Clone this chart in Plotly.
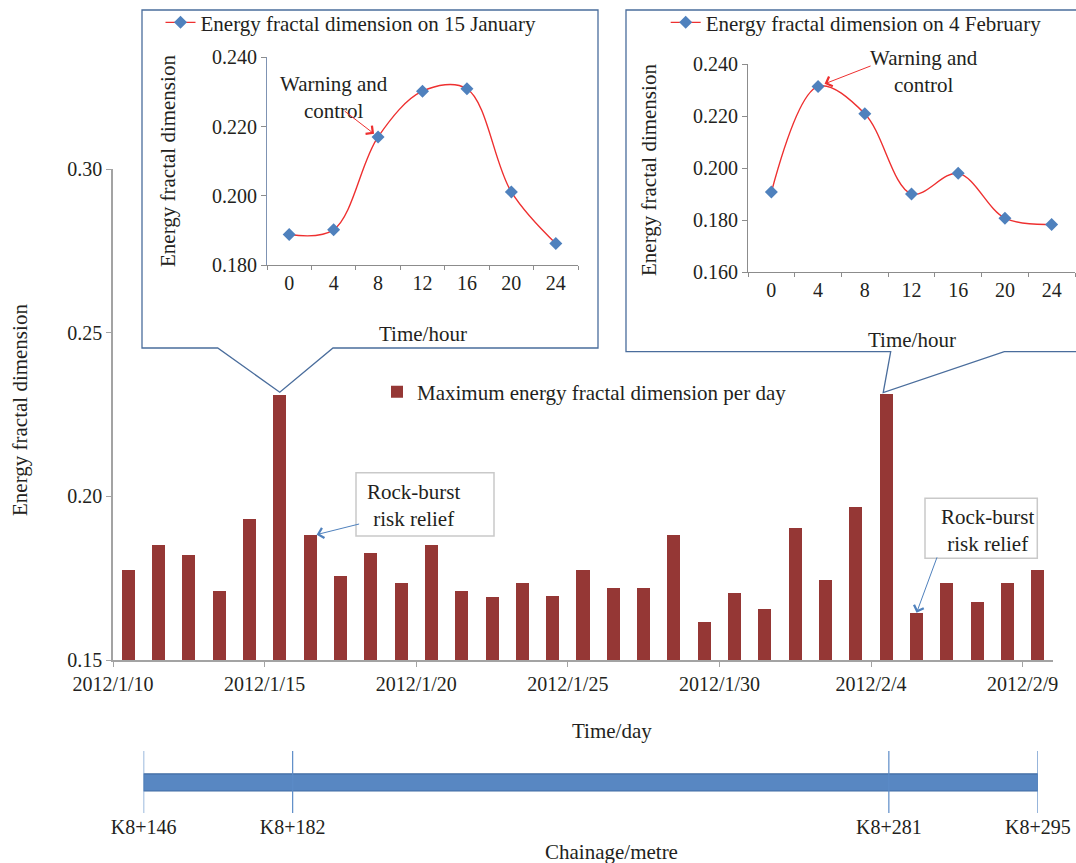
import pandas as pd
import plotly.graph_objects as go

W, H = 1076, 863

# ---- data -------------------------------------------------------------
days = pd.date_range("2012-01-10", "2012-02-09", freq="D").strftime("%Y-%m-%d").tolist()
max_fd = [0.1775, 0.1852, 0.1821, 0.1711, 0.1932, 0.2309, 0.1883, 0.1757,
          0.1828, 0.1736, 0.1852, 0.1711, 0.1693, 0.1736, 0.1696, 0.1775,
          0.1720, 0.1720, 0.1883, 0.1616, 0.1705, 0.1656, 0.1904, 0.1745,
          0.1968, 0.2314, 0.1644, 0.1736, 0.1678, 0.1736, 0.1775]

hours = [0, 4, 8, 12, 16, 20, 24]
fd_jan15 = [0.1888, 0.1902, 0.2170, 0.2302, 0.2309, 0.2011, 0.1862]
fd_feb04 = [0.1908, 0.2314, 0.2209, 0.1901, 0.1980, 0.1808, 0.1784]

chainage_labels = ["K8+146", "K8+182", "K8+281", "K8+295"]
chainage_dates = ["2012-01-10", "2012-01-15", "2012-02-04", "2012-02-09"]

main_ticks = [0.15, 0.20, 0.25, 0.30]
warn_hour_jan15 = 8
warn_hour_feb04 = 4
relief_days = ["2012-01-16", "2012-02-05"]

# ---- styling ------------------------------------------------------------
FONT = "Liberation Serif"
TXT = "#231f20"
GRAY = "#a3a3a3"
BAR = "#953735"
RED = "#ee3030"
BLUE = "#4f81bd"
BOX = "#4a6d9c"
DAY_MS = 86400000
BAR_FRAC = 0.43


def px(x):
    return x / W


def py(y):
    return 1 - y / H


# main plot pixel frame (used for callout tips)
MX0, MX1, MY0, MY1 = 113, 1053, 660, 169
YMIN, YMAX = 0.15, 0.30


def bar_tip(day):
    i = days.index(day)
    x = MX0 + (i + 0.5) * (MX1 - MX0) / len(days)
    y = MY0 - (max_fd[i] - YMIN) / (YMAX - YMIN) * (MY0 - MY1)
    return x, y


def path(points, close=True):
    s = "M" + " L".join(f"{px(x):.5f},{py(y):.5f}" for x, y in points)
    return s + (" Z" if close else "")


hcats = [str(h) for h in hours]

fig = go.Figure()

fig.add_trace(go.Bar(
    x=days, y=max_fd, xperiod=DAY_MS, xperiodalignment="middle",
    width=BAR_FRAC * DAY_MS, marker=dict(color=BAR, line=dict(width=0)),
    name="Maximum energy fractal dimension per day", xaxis="x", yaxis="y",
    legend="legend",
))

fig.add_trace(go.Scatter(
    x=hcats, y=fd_jan15, mode="lines+markers",
    line=dict(color=RED, width=1.4, shape="spline", smoothing=1.0),
    marker=dict(symbol="diamond", size=10, color=BLUE),
    name="Energy fractal dimension on 15 January", xaxis="x2", yaxis="y2",
    legend="legend2",
))

fig.add_trace(go.Scatter(
    x=hcats, y=fd_feb04, mode="lines+markers",
    line=dict(color=RED, width=1.4, shape="spline", smoothing=1.0),
    marker=dict(symbol="diamond", size=10, color=BLUE),
    name="Energy fractal dimension on 4 February", xaxis="x3", yaxis="y3",
    legend="legend3",
))

# chainage marker lines
vx, vy = [], []
for d in chainage_dates:
    vx += [d, d, None]
    vy += [0, 1, None]
fig.add_trace(go.Scatter(
    x=vx, y=vy, mode="lines", line=dict(color="#5b8bc7", width=1.2),
    xaxis="x4", yaxis="y4", showlegend=False, hoverinfo="skip",
))

axis_common = dict(showgrid=False, zeroline=False, showline=True, automargin=False,
                   ticks="outside", tickfont=dict(family=FONT, size=20, color=TXT))

shapes = []

# inset callout boxes
tip1 = bar_tip("2012-01-15")
tip2 = bar_tip("2012-02-04")
shapes.append(dict(
    type="path", xref="paper", yref="paper", layer="below",
    path=path([(142, 10), (598, 10), (598, 348), (333, 348), (tip1[0], tip1[1] - 3),
               (217.7, 348), (142, 348)]),
    fillcolor="white", line=dict(color=BOX, width=1.3),
))
shapes.append(dict(
    type="path", xref="paper", yref="paper", layer="below",
    path=path([(626, 10), (1080, 10), (1080, 351.7), (1004.3, 351.7),
               (tip2[0] - 3, tip2[1] - 1), (890.7, 351.7), (626, 351.7)]),
    fillcolor="white", line=dict(color=BOX, width=1.3),
))

# text boxes for the relief notes
for (x0, y0, x1, y1) in [(356, 472.7, 494, 536), (925, 498.3, 1037.3, 558.3)]:
    shapes.append(dict(type="rect", xref="paper", yref="paper", layer="below",
                       x0=px(x0), x1=px(x1), y0=py(y1), y1=py(y0),
                       fillcolor="white", line=dict(color="#c9c9c9", width=1.5)))

# chainage strip
shapes.append(dict(type="rect", xref="x4", yref="y4", layer="below",
                   x0=chainage_dates[0], x1=chainage_dates[-1], y0=0.355, y1=0.63,
                   fillcolor="#5887c2", line=dict(color="#3e6aa1", width=1.2)))

annotations = []


def text_ann(text, x, y, angle=0, size=21):
    annotations.append(dict(text=text, x=px(x), y=py(y), xref="paper", yref="paper",
                            xanchor="center", yanchor="middle", showarrow=False,
                            textangle=angle, font=dict(family=FONT, size=size, color=TXT)))


text_ann("Energy fractal dimension", 20, 410, angle=-90)
text_ann("Time/day", 612, 731)
text_ann("Chainage/metre", 611, 852)
text_ann("Energy fractal dimension", 168, 161, angle=-90)
text_ann("Energy fractal dimension", 649, 170, angle=-90)
text_ann("Time/hour", 422.5, 334)
text_ann("Time/hour", 912, 340)
text_ann("Rock-burst<br>risk relief", 413, 505)
text_ann("Rock-burst<br>risk relief", 987, 530)
text_ann("Warning and<br>control", 334, 97.5)
text_ann("Warning and<br>control", 924, 71)

# arrows
half_bar = pd.Timedelta(milliseconds=BAR_FRAC * DAY_MS / 2)
noon = pd.Timedelta(hours=12)
r0 = relief_days[0]
r1 = relief_days[1]
annotations.append(dict(
    text="", xref="x", yref="y",
    x=(pd.Timestamp(r0) + noon + half_bar).strftime("%Y-%m-%d %H:%M:%S"),
    y=max_fd[days.index(r0)], ax=44, ay=-11, showarrow=True,
    arrowhead=4, arrowsize=2, arrowwidth=1, arrowcolor=BLUE, standoff=0,
))
annotations.append(dict(
    text="", xref="x", yref="y",
    x=(pd.Timestamp(r1) + noon).strftime("%Y-%m-%d %H:%M:%S"),
    y=max_fd[days.index(r1)], ax=21, ay=-57, showarrow=True,
    arrowhead=4, arrowsize=2, arrowwidth=1, arrowcolor=BLUE, standoff=0,
))
annotations.append(dict(
    text="", xref="x2", yref="y2", x=hours.index(warn_hour_jan15),
    y=fd_jan15[hours.index(warn_hour_jan15)], ax=-35, ay=-27, showarrow=True,
    arrowhead=4, arrowsize=2, arrowwidth=1, arrowcolor=RED, standoff=5,
))
annotations.append(dict(
    text="", xref="x3", yref="y3", x=hours.index(warn_hour_feb04),
    y=fd_feb04[hours.index(warn_hour_feb04)], ax=54, ay=-21, showarrow=True,
    arrowhead=4, arrowsize=2, arrowwidth=1, arrowcolor=RED, standoff=7,
))

legend_common = dict(xanchor="left", yanchor="middle", bgcolor="rgba(0,0,0,0)",
                     borderwidth=0, font=dict(family=FONT, size=21, color=TXT))

fig.update_layout(
    width=W, height=H, autosize=False,
    margin=dict(l=0, r=0, t=0, b=0, autoexpand=False),
    paper_bgcolor="white", plot_bgcolor="rgba(0,0,0,0)",
    font=dict(family=FONT, color=TXT),
    bargap=0,
    xaxis=dict(axis_common, type="date", domain=[px(MX0), px(MX1)],
               range=["2012-01-10", "2012-02-10"], tick0="2012-01-10",
               dtick=5 * DAY_MS, tickformat="%Y/%-m/%-d", ticklen=5,
               linecolor=GRAY, tickcolor=GRAY, linewidth=1.5, anchor="y"),
    yaxis=dict(axis_common, domain=[py(MY0), py(MY1)], range=[YMIN, YMAX],
               tickvals=main_ticks, tickformat=".2f", ticklen=5,
               linecolor=GRAY, tickcolor=GRAY, linewidth=1.5, anchor="x"),
    xaxis2=dict(axis_common, type="category", domain=[px(267), px(578)],
                range=[-0.5, 6.5], tickson="boundaries", ticklen=4,
                linecolor="#8c8c8c", tickcolor="#8c8c8c", anchor="y2"),
    yaxis2=dict(axis_common, domain=[py(265), py(57.3)], range=[0.18, 0.24],
                dtick=0.02, tickformat=".3f", ticklen=5,
                linecolor="#7f93b3", tickcolor="#8c8c8c", anchor="x2"),
    xaxis3=dict(axis_common, type="category", domain=[px(748), px(1075)],
                range=[-0.5, 6.5], tickson="boundaries", ticklen=4,
                linecolor="#8c8c8c", tickcolor="#8c8c8c", anchor="y3"),
    yaxis3=dict(axis_common, domain=[py(272.3), py(64)], range=[0.16, 0.24],
                dtick=0.02, tickformat=".3f", ticklen=5,
                linecolor="#8c8c8c", tickcolor="#8c8c8c", anchor="x3"),
    xaxis4=dict(type="date", domain=[px(143.6), px(1037.9)],
                range=["2012-01-10", "2012-02-09"], tickvals=chainage_dates,
                ticktext=chainage_labels, showline=False, showgrid=False,
                zeroline=False, ticks="", anchor="y4", automargin=False,
                tickfont=dict(family=FONT, size=20, color=TXT)),
    yaxis4=dict(domain=[py(813), py(751)], range=[0, 1], visible=False,
                anchor="x4", automargin=False),
    legend=dict(legend_common, x=px(377), y=py(392)),
    legend2=dict(legend_common, x=px(160.5), y=py(22.7)),
    legend3=dict(legend_common, x=px(665.7), y=py(22.7)),
    shapes=shapes,
    annotations=annotations,
)

fig.write_html("out.html")
